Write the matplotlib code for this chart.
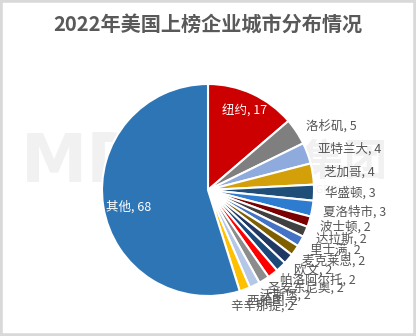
import numpy as np
import matplotlib
matplotlib.use("Agg")
import matplotlib.pyplot as plt
from matplotlib.patches import Rectangle

plt.rcParams['font.family'] = ['Noto Sans CJK SC', 'DejaVu Sans']

title = "2022年美国上榜企业城市分布情况"
cities = ["纽约", "洛杉矶", "亚特兰大", "芝加哥", "华盛顿", "夏洛特市",
          "波士顿", "达拉斯", "里士满", "麦克莱恩", "欧文", "帕洛阿尔托",
          "圣安东尼奥", "沃斯堡", "西雅图", "辛辛那提", "其他"]
counts = [17, 5, 4, 4, 3, 3, 2, 2, 2, 2, 2, 2, 2, 2, 2, 2, 68]
colors = ["#CC0000", "#7F7F7F", "#8FAADC", "#D4A00A", "#1F4E79", "#2E7CD0",
          "#7B0000", "#404040", "#4472C4", "#7F6000", "#203864", "#1B4A7A",
          "#FF0000", "#8C8C8C", "#B4C7E7", "#FFC000", "#2E75B6"]
inside = {"纽约", "其他"}

W, H = 416, 336
fig = plt.figure(figsize=(W / 100, H / 100), dpi=100)
ax = fig.add_axes([0, 0, 1, 1])

cx, cy, R = 208, H - 190, 106

# faint watermark behind the pie
ax.text(82, H - 163, "MD", fontsize=48, fontweight='bold', color='#F1F1F1',
        ha='center', va='center', zorder=0, family='DejaVu Sans')
ax.text(258, H - 162, "中大咨询集团", fontsize=31, fontweight='bold', color='#F1F1F1',
        ha='center', va='center', zorder=0)
ax.text(258, H - 190, "MANAGEMENT DEVELOPMENT GROUP", fontsize=7, color='#F1F1F1',
        ha='center', va='center', zorder=0, family='DejaVu Sans')

wedges, _ = ax.pie(counts, colors=colors, startangle=90, counterclock=False,
                   center=(cx, cy), radius=R,
                   wedgeprops=dict(edgecolor='white', linewidth=1.5))
for w in wedges:
    w.set_zorder(2)

ax.set_xlim(0, W)
ax.set_ylim(0, H)
ax.set_aspect('equal')
ax.axis('off')

fig.canvas.draw()
renderer = fig.canvas.get_renderer()

for w, name, v in zip(wedges, cities, counts):
    mid = np.deg2rad((w.theta1 + w.theta2) / 2)
    cw = (90 - np.rad2deg(mid)) % 360
    label = f"{name}, {v}"
    if name in inside:
        r = 88 if name == "纽约" else 80
        x = cx + r * np.cos(mid)
        y = cy + r * np.sin(mid) - (5 if name == "其他" else 0)
        ax.text(x, y, label, color='white', fontsize=9, ha='center', va='center', zorder=5)
        continue
    r = 117
    x = cx + r * np.cos(mid)
    y = cy + r * np.sin(mid)
    y -= 7 * max(0.0, -np.cos(np.deg2rad(cw)))
    t = ax.text(x, y, label, color='#555555', fontsize=9, ha='left', va='center', zorder=5)
    g = max(0.0, (cw - 120) / 140)
    if g > 0:
        bb = t.get_window_extent(renderer)
        t.set_x(x - g * bb.width)

fig.text(0.5, 1 - 24 / H, title, fontsize=14.5, fontweight='bold', color='#595959',
         ha='center', va='center')

fig.patches.append(Rectangle((0, 0), 1, 1, transform=fig.transFigure, fill=False,
                             edgecolor='#D9D9D9', linewidth=4))

fig.savefig("out.png", dpi=100, facecolor='white')
